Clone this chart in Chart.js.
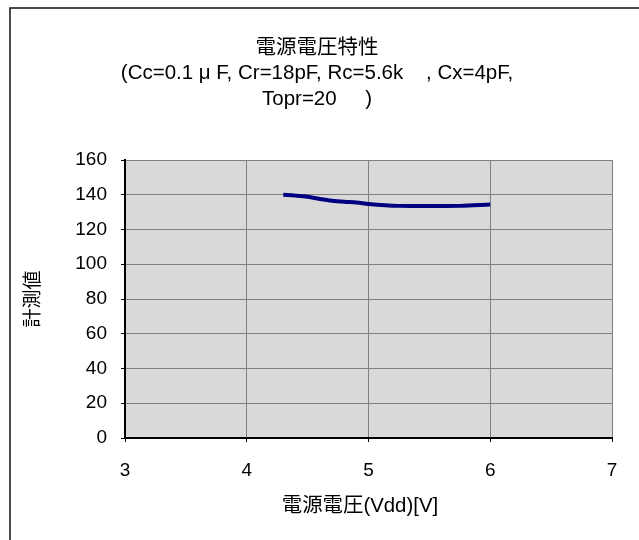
<!DOCTYPE html>
<html>
<head>
<meta charset="utf-8">
<script src="https://cdn.jsdelivr.net/npm/chart.js@4/dist/chart.umd.min.js"></script>
<style>
  html, body { margin: 0; padding: 0; background: #ffffff; }
  #wrap { width: 639px; height: 540px; }
</style>
</head>
<body>
<div id="wrap"><canvas id="c" width="639" height="540"></canvas></div>
<script>
// ---- data ----
const voltage = [4.3, 4.4, 4.5, 4.6, 4.7, 4.8, 4.9, 5.0, 5.25, 5.5, 5.75, 6.0];
const measured = [140, 139.5, 138.8, 137.6, 136.6, 136, 135.6, 134.7, 133.6, 133.5, 133.6, 134.4];
const titleLines = ['電源電圧特性', '(Cc=0.1 μ F, Cr=18pF, Rc=5.6k    , Cx=4pF,', 'Topr=20     )'];
const xTitle = '電源電圧(Vdd)[V]   ';
const yTitle = '計測値';
const xRange = [3, 7];
const yRange = [0, 160];

const FONT = "'Liberation Sans', Arial, 'Noto Sans CJK JP', sans-serif";

const points = voltage.map((v, i) => ({ x: v, y: measured[i] }));

const framePlugin = {
  id: 'frame',
  beforeDraw(chart) {
    const ctx = chart.ctx, a = chart.chartArea;
    ctx.save();
    ctx.fillStyle = '#ffffff';
    ctx.fillRect(0, 0, chart.width, chart.height);
    ctx.fillStyle = '#d9d9d9';
    ctx.fillRect(a.left, a.top, a.right - a.left, a.bottom - a.top);
    ctx.restore();
  },
  afterDraw(chart) {
    const ctx = chart.ctx;
    ctx.save();
    ctx.strokeStyle = '#111111';
    ctx.lineWidth = 1.5;
    ctx.beginPath();
    ctx.moveTo(10, chart.height);
    ctx.lineTo(10, 8);
    ctx.lineTo(chart.width, 8);
    ctx.stroke();
    ctx.restore();
  }
};

new Chart(document.getElementById('c'), {
  type: 'scatter',
  data: {
    datasets: [{
      data: points,
      showLine: true,
      borderColor: '#000080',
      backgroundColor: '#000080',
      borderWidth: 4,
      pointRadius: 0,
      cubicInterpolationMode: 'monotone',
      tension: 0.4,
      yAxisID: 'y'
    }]
  },
  options: {
    responsive: false,
    animation: false,
    devicePixelRatio: 1,
    layout: { padding: { left: 0, top: 0, right: 5, bottom: 0 } },
    plugins: {
      legend: { display: false },
      tooltip: { enabled: false },
      title: {
        display: true,
        text: titleLines,
        color: '#000000',
        font: { family: FONT, size: 20.5, weight: 'normal', lineHeight: 1.244 },
        padding: { top: 35.5, bottom: 48 }
      }
    },
    scales: {
      x: {
        type: 'linear',
        min: xRange[0], max: xRange[1],
        afterFit(s) { s.height = 102; },
        ticks: { stepSize: 1, color: '#000000', font: { family: FONT, size: 19 }, padding: 17 },
        grid: { color: '#808080', lineWidth: 1, tickLength: 4, tickColor: '#000000' },
        border: { color: '#000000', width: 2 },
        title: {
          display: true, text: xTitle, color: '#000000',
          font: { family: FONT, size: 20.4, lineHeight: 1.2 },
          padding: { top: 0, bottom: 21 }
        }
      },
      y: {
        type: 'linear',
        position: 'left',
        min: yRange[0], max: yRange[1],
        afterFit(s) { s.width = 125; },
        ticks: { stepSize: 20, color: '#000000', font: { family: FONT, size: 19 }, padding: 14 },
        grid: { color: '#808080', lineWidth: 1, tickLength: 4, tickColor: '#000000' },
        border: { color: '#000000', width: 2 },
        title: {
          display: true, text: yTitle, color: '#000000',
          font: { family: FONT, size: 19, lineHeight: 1.2 },
          padding: { top: 22, bottom: 0 }
        }
      },
      yRightSpace: {
        type: 'linear',
        position: 'right',
        min: yRange[0], max: yRange[1],
        afterFit(s) { s.width = 22; },
        ticks: { display: false },
        grid: { display: false, drawTicks: false },
        border: { display: false },
        title: { display: false }
      }
    }
  },
  plugins: [framePlugin]
});
</script>
</body>
</html>
